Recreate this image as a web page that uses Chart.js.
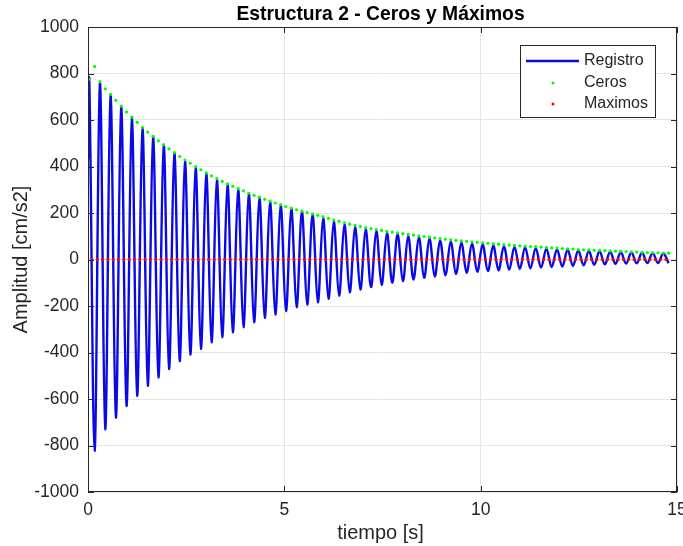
<!DOCTYPE html>
<html>
<head>
<meta charset="utf-8">
<script src="https://cdn.jsdelivr.net/npm/chart.js@4.4.1/dist/chart.umd.min.js"></script>
<style>
  html, body { margin: 0; padding: 0; background: #ffffff; }
  #wrap { width: 683px; height: 546px; }
</style>
</head>
<body>
<div id="wrap"><canvas id="c" width="683" height="546"></canvas></div>
<script>
// Registro: first sample and the successive peaks / troughs of the record
const startTime = 0;
const startValue = 430;

const extremaTime = [
  0.033, 0.168, 0.304, 0.439, 0.574, 0.710, 0.845, 0.980, 1.116, 1.251,
  1.387, 1.522, 1.657, 1.793, 1.928, 2.063, 2.199, 2.334, 2.469, 2.605,
  2.740, 2.875, 3.011, 3.146, 3.281, 3.417, 3.552, 3.687, 3.823, 3.958,
  4.094, 4.229, 4.364, 4.500, 4.635, 4.770, 4.906, 5.041, 5.176, 5.312,
  5.447, 5.582, 5.718, 5.853, 5.988, 6.124, 6.259, 6.394, 6.530, 6.665,
  6.801, 6.936, 7.071, 7.207, 7.342, 7.477, 7.613, 7.748, 7.883, 8.019,
  8.154, 8.289, 8.425, 8.560, 8.695, 8.831, 8.966, 9.101, 9.237, 9.372,
  9.508, 9.643, 9.778, 9.914, 10.049, 10.184, 10.320, 10.455, 10.590, 10.726,
  10.861, 10.996, 11.132, 11.267, 11.402, 11.538, 11.673, 11.808, 11.944, 12.079,
  12.215, 12.350, 12.485, 12.621, 12.756, 12.891, 13.027, 13.162, 13.297, 13.433,
  13.568, 13.703, 13.839, 13.974, 14.109, 14.245, 14.380, 14.515, 14.651, 14.786
];

const extremaValue = [
  771, -823, 757, -730, 707, -680, 656, -630, 606, -586,
  563, -543, 527, -507, 491, -471, 458, -437, 423, -409,
  394, -384, 368, -356, 343, -334, 323, -313, 300, -291,
  283, -270, 265, -251, 248, -237, 234, -222, 219, -205,
  205, -194, 192, -184, 176, -169, 162, -155, 150, -141,
  139, -129, 129, -119, 122, -109, 113, -100, 108, -93,
  100, -86, 95, -79, 89, -73, 82, -68, 77, -62,
  72, -57, 68, -53, 65, -50, 60, -47, 57, -44,
  54, -41, 52, -38, 49, -35, 46, -32, 43, -30,
  42, -27, 39, -25, 37, -23, 36, -21, 34, -19,
  31, -17, 30, -16, 29, -15, 28, -15, 26, -16
];

// Ceros: envelope markers, one per half cycle
const cerosValue = [
  775, 830, 765, 734, 710, 684, 660, 634, 612, 590,
  568, 548, 530, 510, 494, 476, 460, 443, 428, 414,
  400, 386, 373, 360, 348, 336, 325, 315, 305, 295,
  285, 276, 268, 259, 251, 243, 236, 228, 221, 214,
  208, 202, 196, 190, 184, 177, 170, 164, 158, 152,
  147, 142, 137, 133, 129, 125, 121, 118, 115, 111,
  108, 105, 102, 99, 96, 93, 90, 87, 85, 82,
  80, 78, 76, 74, 72, 70, 68, 66, 64, 62,
  61, 59, 58, 56, 55, 53, 52, 50, 49, 47,
  46, 45, 43, 42, 41, 40, 39, 38, 37, 36,
  35, 34, 33, 32, 31, 30, 29, 29, 28, 27
];

// Maximos: zero crossings of the record
const maximosTime = [
  0.101, 0.236, 0.371, 0.507, 0.642, 0.777, 0.913, 1.048, 1.183, 1.319,
  1.454, 1.590, 1.725, 1.860, 1.996, 2.131, 2.266, 2.402, 2.537, 2.672,
  2.808, 2.943, 3.078, 3.214, 3.349, 3.484, 3.620, 3.755, 3.890, 4.026,
  4.161, 4.297, 4.432, 4.567, 4.703, 4.838, 4.973, 5.109, 5.244, 5.379,
  5.515, 5.650, 5.785, 5.921, 6.056, 6.191, 6.327, 6.462, 6.597, 6.733,
  6.868, 7.004, 7.139, 7.274, 7.410, 7.545, 7.680, 7.816, 7.951, 8.086,
  8.222, 8.357, 8.492, 8.628, 8.763, 8.898, 9.034, 9.169, 9.304, 9.440,
  9.575, 9.711, 9.846, 9.981, 10.117, 10.252, 10.387, 10.523, 10.658, 10.793,
  10.929, 11.064, 11.199, 11.335, 11.470, 11.605, 11.741, 11.876, 12.011, 12.147,
  12.282, 12.418, 12.553, 12.688, 12.824, 12.959, 13.094, 13.230, 13.365, 13.500,
  13.636, 13.771, 13.906, 14.042, 14.177, 14.312, 14.448, 14.583, 14.719
];
const maximosValue = maximosTime.map(() => 0);

const xTicks = [0, 5, 10, 15];
const yTicks = [-1000, -800, -600, -400, -200, 0, 200, 400, 600, 800, 1000];

const titleText = 'Estructura 2 - Ceros y Máximos';
const xLabel = 'tiempo [s]';
const yLabel = 'Amplitud [cm/s2]';
const legendLabels = ['Registro', 'Ceros', 'Maximos'];

const BLUE = '#0a0ae6';
const GREEN = '#00ff00';
const RED = '#ff0000';
const AXIS = '#262626';
const FONT = '"Liberation Sans", Arial, Helvetica, sans-serif';

const registroPts = [{ x: startTime, y: startValue }].concat(
  extremaTime.map((t, i) => ({ x: t, y: extremaValue[i] })));
const cerosPts = extremaTime.map((t, i) => ({ x: t, y: cerosValue[i] }));
const maximosPts = maximosTime.map((t, i) => ({ x: t, y: maximosValue[i] }));

// Box, inward ticks, titles and legend in the MATLAB figure style
const figureDecor = {
  id: 'figureDecor',
  afterDraw(chart) {
    const { ctx, chartArea: a, scales } = chart;
    const xs = scales.x, ys = scales.y;
    ctx.save();
    // axes box
    ctx.strokeStyle = AXIS;
    ctx.lineWidth = 1;
    ctx.strokeRect(Math.round(a.left) + 0.5, Math.round(a.top) + 0.5,
      Math.round(a.right - a.left) - 1, Math.round(a.bottom - a.top) - 1);
    // inward tick marks on all four sides
    const tl = 6;
    ctx.beginPath();
    xTicks.forEach(v => {
      const px = Math.round(xs.getPixelForValue(v)) + 0.5;
      ctx.moveTo(px, a.bottom); ctx.lineTo(px, a.bottom - tl);
      ctx.moveTo(px, a.top); ctx.lineTo(px, a.top + tl);
    });
    yTicks.forEach(v => {
      const py = Math.round(ys.getPixelForValue(v)) + 0.5;
      ctx.moveTo(a.left, py); ctx.lineTo(a.left + tl, py);
      ctx.moveTo(a.right, py); ctx.lineTo(a.right - tl, py);
    });
    ctx.stroke();

    // title and axis labels
    const cx = (a.left + a.right) / 2;
    ctx.fillStyle = '#000000';
    ctx.textAlign = 'center';
    ctx.textBaseline = 'middle';
    ctx.font = 'bold 19.3px ' + FONT;
    ctx.fillText(titleText, cx - 2, 15);
    ctx.fillStyle = AXIS;
    ctx.font = '20px ' + FONT;
    ctx.fillText(xLabel, cx - 2, 533);
    ctx.save();
    ctx.translate(21, (a.top + a.bottom) / 2);
    ctx.rotate(-Math.PI / 2);
    ctx.fillText(yLabel, 0, 0);
    ctx.restore();

    // legend
    const lx = 520.5, ly = 45.5, lw = 135, lh = 72;
    ctx.fillStyle = '#ffffff';
    ctx.fillRect(lx, ly, lw, lh);
    ctx.strokeStyle = AXIS;
    ctx.strokeRect(lx, ly, lw, lh);
    const rows = [61, 83, 104];
    ctx.strokeStyle = BLUE;
    ctx.lineWidth = 2.4;
    ctx.beginPath();
    ctx.moveTo(526, rows[0]); ctx.lineTo(579, rows[0]);
    ctx.stroke();
    ctx.fillStyle = GREEN;
    ctx.beginPath(); ctx.arc(553, rows[1], 1.5, 0, Math.PI * 2); ctx.fill();
    ctx.fillStyle = RED;
    ctx.beginPath(); ctx.arc(553, rows[2], 1.5, 0, Math.PI * 2); ctx.fill();
    ctx.fillStyle = AXIS;
    ctx.font = '16px ' + FONT;
    ctx.textAlign = 'left';
    legendLabels.forEach((s, i) => ctx.fillText(s, 584, rows[i]));
    ctx.restore();
  }
};

new Chart(document.getElementById('c'), {
  type: 'scatter',
  data: {
    datasets: [
      {
        label: legendLabels[0],
        data: registroPts,
        showLine: true,
        borderColor: BLUE,
        borderWidth: 2.4,
        pointRadius: 0,
        tension: 0.36,
        order: 3
      },
      {
        label: legendLabels[1],
        data: cerosPts,
        showLine: false,
        pointRadius: 1.6,
        pointBorderWidth: 0,
        pointBackgroundColor: GREEN,
        order: 2
      },
      {
        label: legendLabels[2],
        data: maximosPts,
        showLine: false,
        pointRadius: 1.6,
        pointBorderWidth: 0,
        pointBackgroundColor: RED,
        order: 1
      }
    ]
  },
  options: {
    responsive: false,
    animation: false,
    devicePixelRatio: 1,
    layout: { padding: { left: 0, right: 6, top: 27, bottom: 0 } },
    plugins: { legend: { display: false }, tooltip: { enabled: false }, title: { display: false } },
    scales: {
      x: {
        type: 'linear',
        min: 0, max: 15,
        afterBuildTicks: s => { s.ticks = xTicks.map(v => ({ value: v })); },
        afterFit: s => { s.height = 54; s.paddingLeft = 0; s.paddingRight = 0; },
        grid: { color: '#e6e6e6', drawTicks: false, lineWidth: 1 },
        border: { display: false },
        ticks: { color: AXIS, padding: 8, maxRotation: 0, callback: v => String(v), font: { family: FONT, size: 17.5 } }
      },
      y: {
        type: 'linear',
        min: -1000, max: 1000,
        afterBuildTicks: s => { s.ticks = yTicks.map(v => ({ value: v })); },
        afterFit: s => { s.width = 88; s.paddingTop = 0; s.paddingBottom = 0; },
        grid: { color: '#e6e6e6', drawTicks: false, lineWidth: 1 },
        border: { display: false },
        ticks: { color: AXIS, padding: 9, callback: v => String(v), font: { family: FONT, size: 17.5 } }
      }
    }
  },
  plugins: [figureDecor]
});
</script>
</body>
</html>
